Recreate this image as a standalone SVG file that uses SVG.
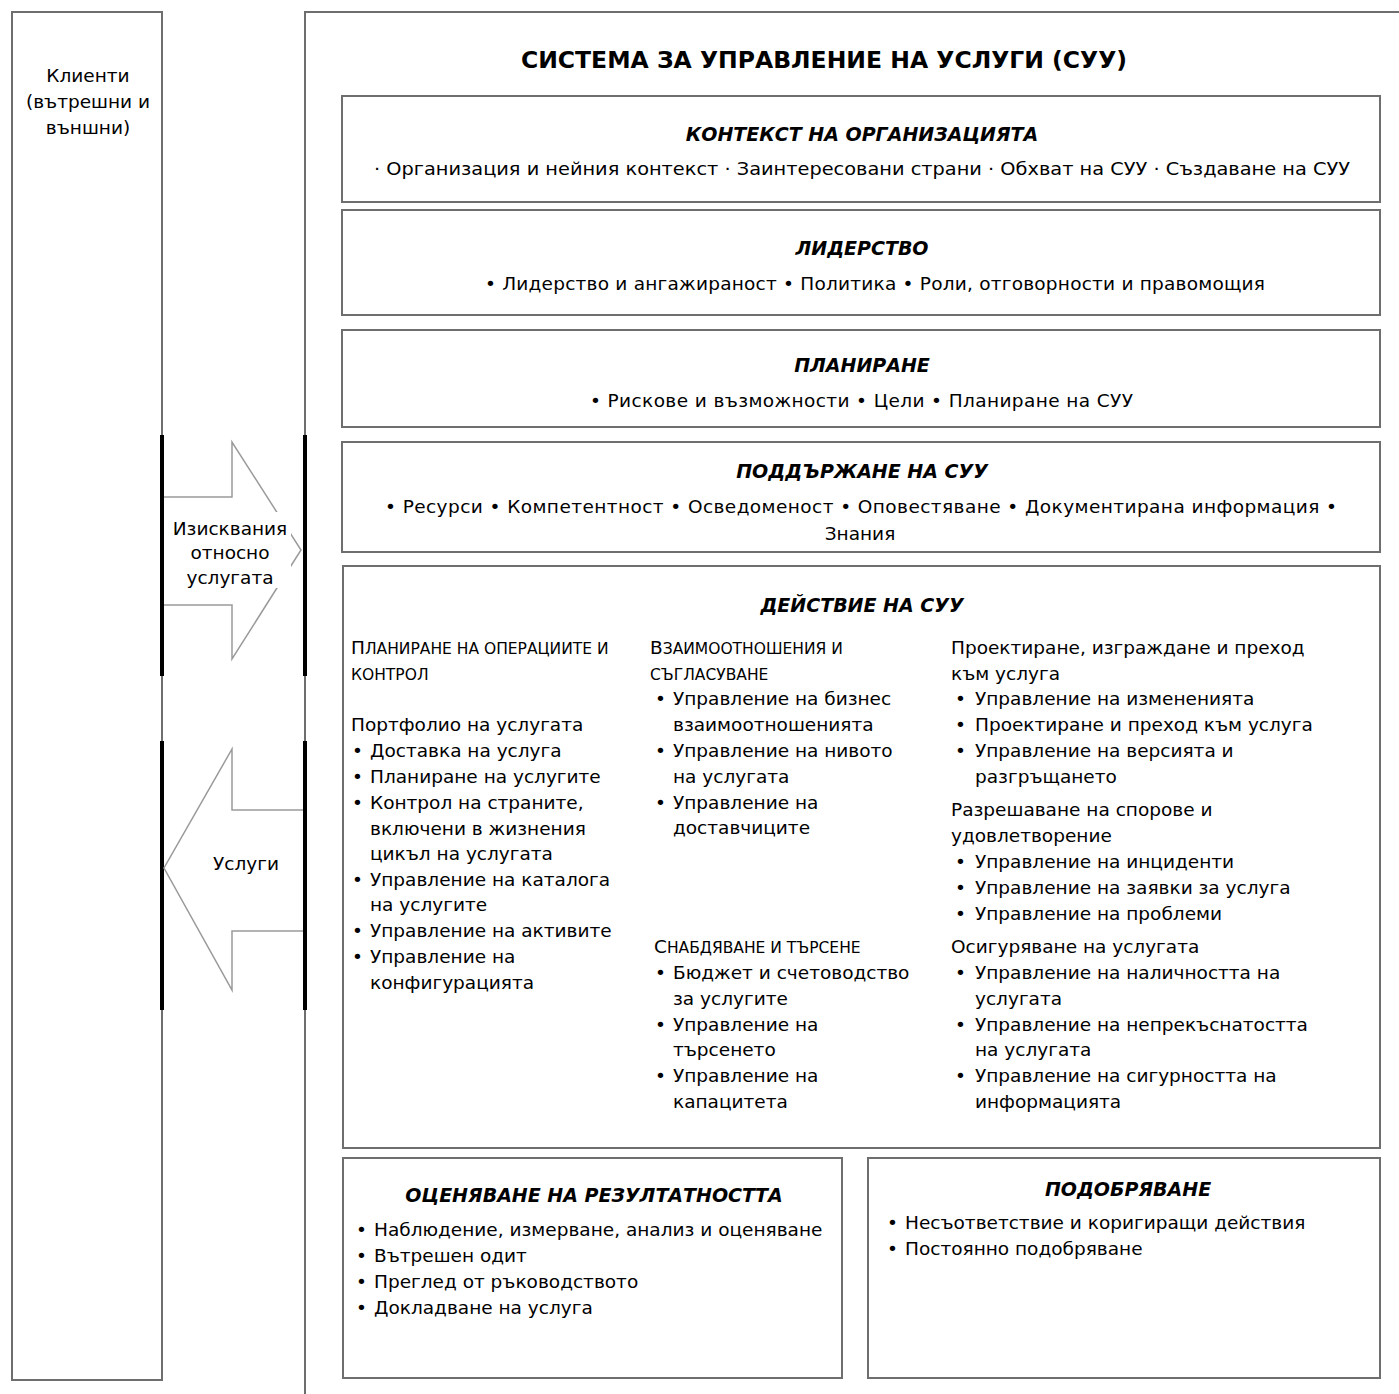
<svg xmlns="http://www.w3.org/2000/svg" width="1399" height="1394" viewBox="0 0 1399 1394">
<style>
text{font-family:"DejaVu Sans","Liberation Sans",sans-serif;fill:#000}
.t{font-size:18.5px}
.h{font-size:19px;font-weight:bold;font-style:italic;text-anchor:middle}
.title{font-size:23.5px;font-weight:bold;text-anchor:middle}
.box{fill:#fff;stroke:#6e6e6e;stroke-width:2}
.sc{font-size:15.5px}
.mid{text-anchor:middle}
.arr{fill:#fff;stroke:#9a9a9a;stroke-width:1.5}
.bar{stroke:#000;stroke-width:4}
</style>
<rect width="1399" height="1394" fill="#fff"/>
<g id="clients">
<rect class="box" x="12" y="12" width="150" height="1368"/>
<text class="t mid" x="88" y="82">Клиенти</text>
<text class="t mid" x="88" y="108">(вътрешни и</text>
<text class="t mid" x="88" y="134">външни)</text>
</g>
<g id="sms">
<path d="M305 1394 V12 H1399" fill="none" stroke="#6e6e6e" stroke-width="2"/>
<text class="title" x="824" y="68">СИСТЕМА ЗА УПРАВЛЕНИЕ НА УСЛУГИ (СУУ)</text>
</g>
<g id="connectors">
<line class="bar" x1="162" y1="435" x2="162" y2="676"/>
<line class="bar" x1="162" y1="741" x2="162" y2="1010"/>
<line class="bar" x1="305" y1="435" x2="305" y2="676"/>
<line class="bar" x1="305" y1="741" x2="305" y2="1010"/>
<g id="req-arrow">
<path class="arr" d="M164 497 H232 V442 L301 550 L232 659 V605 H164"/>
<rect x="173" y="512" width="118" height="76" fill="#fff"/>
<text class="t mid" x="230" y="535">Изисквания</text>
<text class="t mid" x="230" y="559">относно</text>
<text class="t mid" x="230" y="584">услугата</text>
</g>
<g id="svc-arrow">
<path class="arr" d="M303 810 H232 V749 L164 868 L232 990 V931 H303"/>
<text class="t mid" x="246" y="870">Услуги</text>
</g>
</g>
<g id="context">
<rect class="box" x="342" y="96" width="1038" height="106"/>
<text class="h" x="862" y="141">КОНТЕКСТ НА ОРГАНИЗАЦИЯТА</text>
<text class="t" x="374" y="175" textLength="976" lengthAdjust="spacingAndGlyphs">· Организация и нейния контекст · Заинтересовани страни  · Обхват на СУУ  · Създаване на СУУ</text>
</g>
<g id="leadership">
<rect class="box" x="342" y="210" width="1038" height="105"/>
<text class="h" x="862" y="255">ЛИДЕРСТВО</text>
<text class="t" x="485" y="290" textLength="780" lengthAdjust="spacing">• Лидерство и ангажираност  • Политика  • Роли, отговорности и правомощия</text>
</g>
<g id="planning">
<rect class="box" x="342" y="330" width="1038" height="97"/>
<text class="h" x="862" y="372">ПЛАНИРАНЕ</text>
<text class="t" x="590" y="407" textLength="543" lengthAdjust="spacing">• Рискове и възможности  • Цели  • Планиране на СУУ</text>
</g>
<g id="support">
<rect class="box" x="342" y="442" width="1038" height="110"/>
<text class="h" x="862" y="478">ПОДДЪРЖАНЕ НА СУУ</text>
<text class="t" x="385" y="513" textLength="952" lengthAdjust="spacing">• Ресурси  • Компетентност  • Осведоменост  • Оповестяване  • Документирана информация  •</text>
<text class="t mid" x="860" y="540">Знания</text>
</g>
<g id="operation">
<rect class="box" x="343" y="566" width="1037" height="582"/>
<text class="h" x="862" y="612">ДЕЙСТВИЕ НА СУУ</text>
<g id="col1">
<text x="351" y="654"><tspan class="t">П</tspan><tspan class="sc">ЛАНИРАНЕ НА ОПЕРАЦИИТЕ И</tspan></text>
<text class="sc" x="351" y="680">КОНТРОЛ</text>
<text class="t" x="351" y="731">Портфолио на услугата</text>
<text class="t" x="352" y="757">•</text><text class="t" x="370" y="757">Доставка на услуга</text>
<text class="t" x="352" y="783">•</text><text class="t" x="370" y="783">Планиране на услугите</text>
<text class="t" x="352" y="809">•</text><text class="t" x="370" y="809">Контрол на страните,</text>
<text class="t" x="370" y="835">включени в жизнения</text>
<text class="t" x="370" y="860">цикъл на услугата</text>
<text class="t" x="352" y="886">•</text><text class="t" x="370" y="886">Управление на каталога</text>
<text class="t" x="370" y="911">на услугите</text>
<text class="t" x="352" y="937">•</text><text class="t" x="370" y="937">Управление на активите</text>
<text class="t" x="352" y="963">•</text><text class="t" x="370" y="963">Управление на</text>
<text class="t" x="370" y="989">конфигурацията</text>
</g>
<g id="col2">
<text x="650" y="654"><tspan class="t">В</tspan><tspan class="sc">ЗАИМООТНОШЕНИЯ И</tspan></text>
<text class="sc" x="650" y="680">СЪГЛАСУВАНЕ</text>
<text class="t" x="655" y="705">•</text><text class="t" x="673" y="705">Управление на бизнес</text>
<text class="t" x="673" y="731">взаимоотношенията</text>
<text class="t" x="655" y="757">•</text><text class="t" x="673" y="757">Управление на нивото</text>
<text class="t" x="673" y="783">на услугата</text>
<text class="t" x="655" y="809">•</text><text class="t" x="673" y="809">Управление на</text>
<text class="t" x="673" y="834">доставчиците</text>
<text x="654" y="953"><tspan class="t">С</tspan><tspan class="sc">НАБДЯВАНЕ И ТЪРСЕНЕ</tspan></text>
<text class="t" x="655" y="979">•</text><text class="t" x="673" y="979">Бюджет и счетоводство</text>
<text class="t" x="673" y="1005">за услугите</text>
<text class="t" x="655" y="1031">•</text><text class="t" x="673" y="1031">Управление на</text>
<text class="t" x="673" y="1056">търсенето</text>
<text class="t" x="655" y="1082">•</text><text class="t" x="673" y="1082">Управление на</text>
<text class="t" x="673" y="1108">капацитета</text>
</g>
<g id="col3">
<text class="t" x="951" y="654">Проектиране, изграждане и преход</text>
<text class="t" x="951" y="680">към услуга</text>
<text class="t" x="955" y="705">•</text><text class="t" x="975" y="705">Управление на измененията</text>
<text class="t" x="955" y="731">•</text><text class="t" x="975" y="731">Проектиране и преход към услуга</text>
<text class="t" x="955" y="757">•</text><text class="t" x="975" y="757">Управление на версията и</text>
<text class="t" x="975" y="783">разгръщането</text>
<text class="t" x="951" y="816">Разрешаване на спорове и</text>
<text class="t" x="951" y="842">удовлетворение</text>
<text class="t" x="955" y="868">•</text><text class="t" x="975" y="868">Управление на инциденти</text>
<text class="t" x="955" y="894">•</text><text class="t" x="975" y="894">Управление на заявки за услуга</text>
<text class="t" x="955" y="920">•</text><text class="t" x="975" y="920">Управление на проблеми</text>
<text class="t" x="951" y="953">Осигуряване на услугата</text>
<text class="t" x="955" y="979">•</text><text class="t" x="975" y="979">Управление на наличността на</text>
<text class="t" x="975" y="1005">услугата</text>
<text class="t" x="955" y="1031">•</text><text class="t" x="975" y="1031">Управление на непрекъснатостта</text>
<text class="t" x="975" y="1056">на услугата</text>
<text class="t" x="955" y="1082">•</text><text class="t" x="975" y="1082">Управление на сигурността на</text>
<text class="t" x="975" y="1108">информацията</text>
</g>
</g>
<g id="evaluation">
<rect class="box" x="343" y="1158" width="499" height="220"/>
<text class="h" x="594" y="1202">ОЦЕНЯВАНЕ НА РЕЗУЛТАТНОСТТА</text>
<text class="t" x="356" y="1236">•</text><text class="t" x="374" y="1236">Наблюдение, измерване, анализ и оценяване</text>
<text class="t" x="356" y="1262">•</text><text class="t" x="374" y="1262">Вътрешен одит</text>
<text class="t" x="356" y="1288">•</text><text class="t" x="374" y="1288">Преглед от ръководството</text>
<text class="t" x="356" y="1314">•</text><text class="t" x="374" y="1314">Докладване на услуга</text>
</g>
<g id="improvement">
<rect class="box" x="868" y="1158" width="512" height="220"/>
<text class="h" x="1128" y="1196">ПОДОБРЯВАНЕ</text>
<text class="t" x="887" y="1229">•</text><text class="t" x="905" y="1229">Несъответствие и коригиращи действия</text>
<text class="t" x="887" y="1255">•</text><text class="t" x="905" y="1255">Постоянно подобряване</text>
</g>
</svg>
